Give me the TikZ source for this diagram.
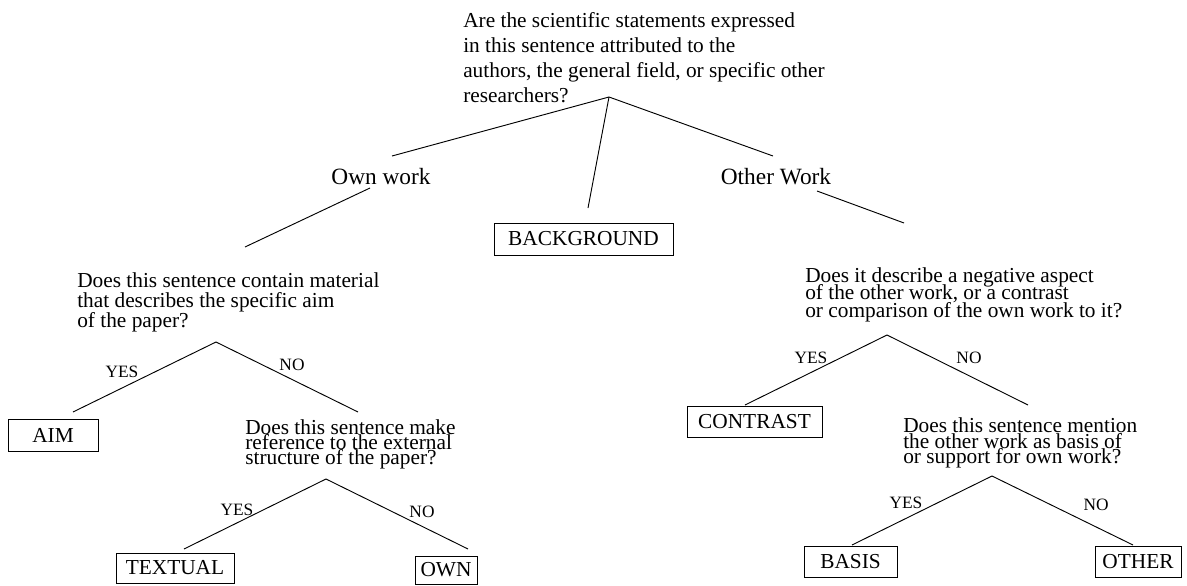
\documentclass[tikz,border=0pt]{standalone}
\usepackage{fontspec}
\setmainfont{Liberation Serif}

\tikzset{
  question/.style={anchor=north west, inner sep=0pt, align=left},
  leaf/.style={draw, line width=0.7pt, inner sep=0pt, font=\fontsize{16}{19}\selectfont},
  answer/.style={inner sep=0pt, font=\fontsize{13}{15}\selectfont},
  branch/.style={line width=0.7pt},
}

\begin{document}
\begin{tikzpicture}[x=0.75pt,y=0.75pt,yscale=-1,xscale=1]
\useasboundingbox (0,0) rectangle (1187,585);

% Text Node: first question
\node (q1) [question, font={\fontsize{16}{18.75}\selectfont}] at (463,12.3)
  {Are the scientific statements expressed\\in this sentence attributed to the\\authors, the general field, or specific other\\researchers?};
% Text Node
\node (own) [anchor=base, inner sep=0pt, font=\fontsize{17.5}{21}\selectfont] at (381,184) {Own work};
% Text Node
\node (other) [anchor=base, inner sep=0pt, font=\fontsize{17.5}{21}\selectfont] at (776,184) {Other Work};
% Text Node: own work questions
\node (q2) [question, font={\fontsize{16}{15}\selectfont\lineskiplimit=-50pt}] at (77,272.3)
  {Does this sentence contain material\\that describes the specific aim\\of the paper?};
\node (q3) [question, font={\fontsize{16}{11.25}\selectfont\lineskiplimit=-50pt}] at (245,419.8)
  {Does this sentence make\\reference to the external\\structure of the paper?};
% Text Node: other work questions
\node (q4) [question, font={\fontsize{16}{13.1}\selectfont\lineskiplimit=-50pt}] at (805,267.3)
  {Does it describe a negative aspect\\of the other work, or a contrast\\or comparison of the own work to it?};
\node (q5) [question, font={\fontsize{16}{11.8}\selectfont\lineskiplimit=-50pt}] at (903,417.3)
  {Does this sentence mention\\the other work as basis of\\or support for own work?};

%Shape: Boxes
\node (background) [leaf, minimum width=134.25pt, minimum height=24pt] at (583.5,239) {BACKGROUND};
\node (aim) [leaf, minimum width=67.5pt, minimum height=24pt] at (53,435) {AIM};
\node (textual) [leaf, minimum width=88.5pt, minimum height=22.5pt] at (175,568) {TEXTUAL};
\node (ownbox) [leaf, minimum width=46.5pt, minimum height=21pt] at (446,570) {OWN};
\node (contrast) [leaf, minimum width=101.25pt, minimum height=23.25pt] at (754.5,421.5) {CONTRAST};
\node (basis) [leaf, minimum width=69.75pt, minimum height=23.25pt] at (850.5,561.5) {BASIS};
\node (otherbox) [leaf, minimum width=64.5pt, minimum height=23.25pt] at (1138,561.5) {OTHER};

% Text Node: answers
\node (q2 yes) [answer] at (122,372) {YES};
\node (q2 no) [answer] at (292,365) {NO};
\node (q3 yes) [answer] at (237,510) {YES};
\node (q3 no) [answer] at (422,512) {NO};
\node (q4 yes) [answer] at (811,358) {YES};
\node (q4 no) [answer] at (969,358) {NO};
\node (q5 yes) [answer] at (906,503) {YES};
\node (q5 no) [answer] at (1096,505) {NO};

% fork points and line ends
\coordinate (q1 fork) at (609,97);
\coordinate (own in) at (392,156);
\coordinate (own out) at (370,188);
\coordinate (bg in) at (588,208);
\coordinate (other in) at (773,156);
\coordinate (other out) at (817,191);
\coordinate (q2 in) at (245,247);
\coordinate (q2 fork) at (216,342);
\coordinate (aim in) at (73,412);
\coordinate (q3 in) at (358,412);
\coordinate (q3 fork) at (326,479);
\coordinate (textual in) at (184,549);
\coordinate (ownbox in) at (468,549);
\coordinate (q4 in) at (904,223);
\coordinate (q4 fork) at (887,335);
\coordinate (contrast in) at (745,405);
\coordinate (q5 in) at (1028,405);
\coordinate (q5 fork) at (992,476);
\coordinate (basis in) at (852,545);
\coordinate (otherbox in) at (1133,545);

%Straight Lines
\draw [branch] (q1 fork) -- (own in);
\draw [branch] (q1 fork) -- (bg in);
\draw [branch] (q1 fork) -- (other in);
\draw [branch] (own out) -- (q2 in);
\draw [branch] (other out) -- (q4 in);
\draw [branch] (q2 fork) -- (aim in);
\draw [branch] (q2 fork) -- (q3 in);
\draw [branch] (q3 fork) -- (textual in);
\draw [branch] (q3 fork) -- (ownbox in);
\draw [branch] (q4 fork) -- (contrast in);
\draw [branch] (q4 fork) -- (q5 in);
\draw [branch] (q5 fork) -- (basis in);
\draw [branch] (q5 fork) -- (otherbox in);

\end{tikzpicture}
\end{document}
